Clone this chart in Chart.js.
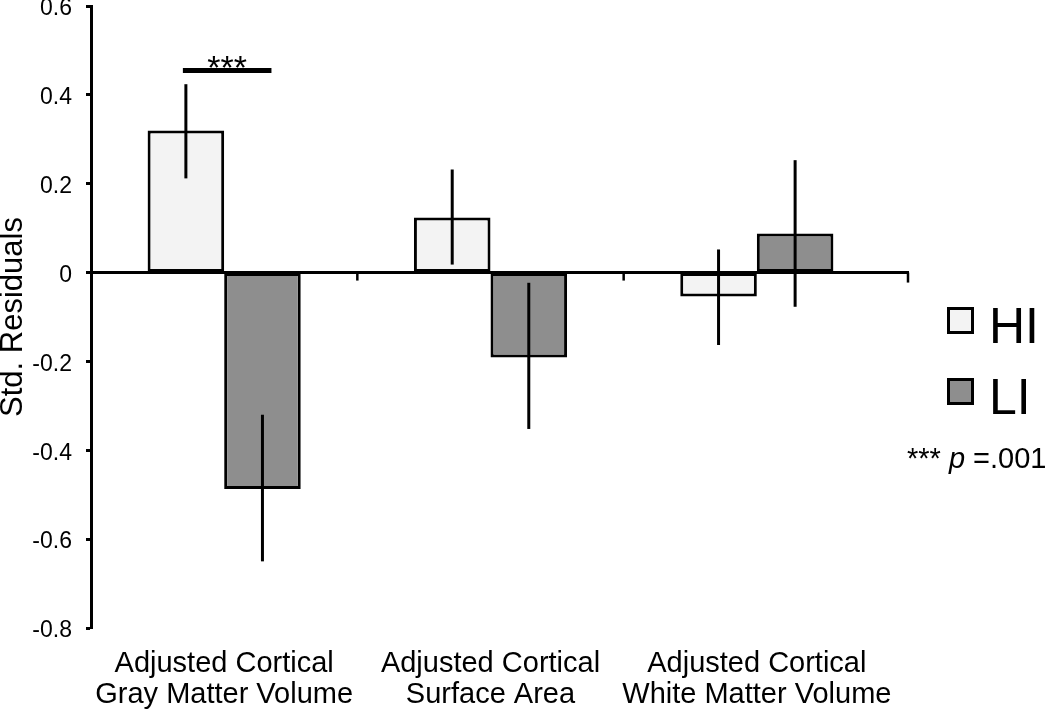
<!DOCTYPE html>
<html><head><meta charset="utf-8">
<script src="https://cdn.jsdelivr.net/npm/chart.js@4/dist/chart.umd.min.js"></script>
<style>html,body{margin:0;padding:0;background:#fff}#wrap{width:1050px;height:714px;position:relative}</style>
</head><body><div id="wrap"><canvas id="c" width="1050" height="714"></canvas></div>
<script>
const categories = [
  ['Adjusted Cortical', 'Gray Matter Volume'],
  ['Adjusted Cortical', 'Surface Area'],
  ['Adjusted Cortical', 'White Matter Volume']
];
const seriesNames = ['HI', 'LI'];
const hiValues = [0.32, 0.124, -0.054];
const liValues = [-0.487, -0.191, 0.088];
const hiErrLow  = [0.212, 0.018, -0.163];
const hiErrHigh = [0.424, 0.232, 0.052];
const liErrLow  = [-0.650, -0.352, -0.077];
const liErrHigh = [-0.320, -0.023, 0.253];
const yTickValues = [-0.8, -0.6, -0.4, -0.2, 0, 0.2, 0.4, 0.6];
const yTickLabels = ['-0.8', '-0.6', '-0.4', '-0.2', '0', '0.2', '0.4', '0.6'];
const yTitle = 'Std. Residuals';
const sigLevel = 0.455;
const sigMark = '***';
const noteStars = '*** ';
const noteP = 'p';
const noteValue = ' =.001';

const FONT = '"Liberation Sans", Arial, Helvetica, sans-serif';
const errs = [[hiErrLow, hiErrHigh], [liErrLow, liErrHigh]];

const decor = {
  id: 'decor',
  afterDatasetsDraw(chart) {
    const { ctx, chartArea, scales: { x, y } } = chart;
    ctx.save();
    ctx.strokeStyle = '#000';
    ctx.lineCap = 'butt';
    // zero line with category separators
    const y0 = y.getPixelForValue(0);
    const xEnd = chartArea.right + 19;
    ctx.lineWidth = 3;
    ctx.beginPath(); ctx.moveTo(chartArea.left, y0); ctx.lineTo(xEnd, y0); ctx.stroke();
    ctx.lineWidth = 2.5;
    for (let i = 1; i < categories.length; i++) {
      const xb = (x.getPixelForValue(i - 1) + x.getPixelForValue(i)) / 2;
      ctx.beginPath(); ctx.moveTo(xb, y0); ctx.lineTo(xb, y0 + 8); ctx.stroke();
    }
    ctx.beginPath(); ctx.moveTo(xEnd - 1, y0); ctx.lineTo(xEnd - 1, y0 + 10); ctx.stroke();
    // error bars
    ctx.lineWidth = 3;
    errs.forEach((e, di) => {
      chart.getDatasetMeta(di).data.forEach((bar, i) => {
        ctx.beginPath();
        ctx.moveTo(bar.x, y.getPixelForValue(e[0][i]));
        ctx.lineTo(bar.x, y.getPixelForValue(e[1][i]));
        ctx.stroke();
      });
    });
    // significance bar
    const b0 = chart.getDatasetMeta(0).data[0], b1 = chart.getDatasetMeta(1).data[0];
    const ys = y.getPixelForValue(sigLevel);
    ctx.lineWidth = 5;
    ctx.beginPath(); ctx.moveTo(b0.x - 3, ys); ctx.lineTo(b1.x + 9, ys); ctx.stroke();
    ctx.fillStyle = '#000';
    ctx.font = '34px ' + FONT;
    ctx.textAlign = 'center';
    ctx.textBaseline = 'alphabetic';
    ctx.fillText(sigMark, (b0.x + b1.x) / 2 + 3, ys + 9);
    ctx.restore();
  },
  afterDraw(chart) {
    const { ctx, chartArea } = chart;
    ctx.save();
    // legend
    const bx = chartArea.right + 57;
    const tops = [chartArea.top + 301, chartArea.top + 372];
    chart.data.datasets.forEach((ds, i) => {
      const t = tops[i];
      ctx.fillStyle = ds.backgroundColor;
      ctx.fillRect(bx, t, 27, 27);
      ctx.strokeStyle = '#000';
      ctx.lineWidth = 3;
      ctx.strokeRect(bx + 1.5, t + 1.5, 24, 24);
      ctx.fillStyle = '#000';
      ctx.font = '50px ' + FONT;
      ctx.textAlign = 'left';
      ctx.textBaseline = 'alphabetic';
      ctx.fillText(ds.label, bx + 42, t + 36);
    });
    // note
    let nx = chartArea.right + 17;
    const ny = chartArea.top + 462;
    ctx.fillStyle = '#000';
    ctx.textAlign = 'left';
    ctx.font = '29px ' + FONT;
    ctx.fillText(noteStars, nx, ny);
    nx += ctx.measureText(noteStars).width;
    ctx.font = 'italic 29px ' + FONT;
    ctx.fillText(noteP, nx, ny);
    nx += ctx.measureText(noteP).width;
    ctx.font = '29px ' + FONT;
    ctx.fillText(noteValue, nx, ny);
    ctx.restore();
  }
};

new Chart(document.getElementById('c'), {
  type: 'bar',
  data: {
    labels: categories,
    datasets: [
      { label: seriesNames[0], data: hiValues, backgroundColor: '#f3f3f3', borderColor: '#000', borderWidth: 3, borderSkipped: false },
      { label: seriesNames[1], data: liValues, backgroundColor: '#8e8e8e', borderColor: '#000', borderWidth: 3, borderSkipped: false }
    ]
  },
  options: {
    responsive: false,
    animation: false,
    events: [],
    layout: { padding: { top: 6, right: 160, left: 0, bottom: 0 } },
    datasets: { bar: { categoryPercentage: 0.575, barPercentage: 1.0 } },
    plugins: { legend: { display: false }, tooltip: { enabled: false } },
    scales: {
      x: {
        offset: true,
        grid: { display: false, drawTicks: false },
        border: { display: false },
        ticks: { color: '#000', font: { family: FONT, size: 29, lineHeight: 1.06 }, padding: 21, maxRotation: 0, autoSkip: false },
        afterFit(s) { s.height = 86; s.paddingLeft = 0; s.paddingRight = 0; }
      },
      y: {
        min: -0.8, max: 0.6,
        afterBuildTicks(s) { s.ticks = yTickValues.map(v => ({ value: v })); },
        ticks: {
          color: '#000', font: { family: FONT, size: 23 }, padding: 14, labelOffset: 3,
          callback: (v, i) => yTickLabels[i]
        },
        grid: { drawOnChartArea: false, drawTicks: true, tickLength: 5, tickColor: '#000', tickWidth: 3 },
        border: { display: true, color: '#000', width: 3 },
        title: { display: true, text: yTitle, color: '#000', font: { family: FONT, size: 31, lineHeight: 0.9 }, padding: 0 },
        afterFit(s) { s.width = 91; s.paddingTop = 0; s.paddingBottom = 0; }
      }
    }
  },
  plugins: [decor]
});
</script>
</body></html>
